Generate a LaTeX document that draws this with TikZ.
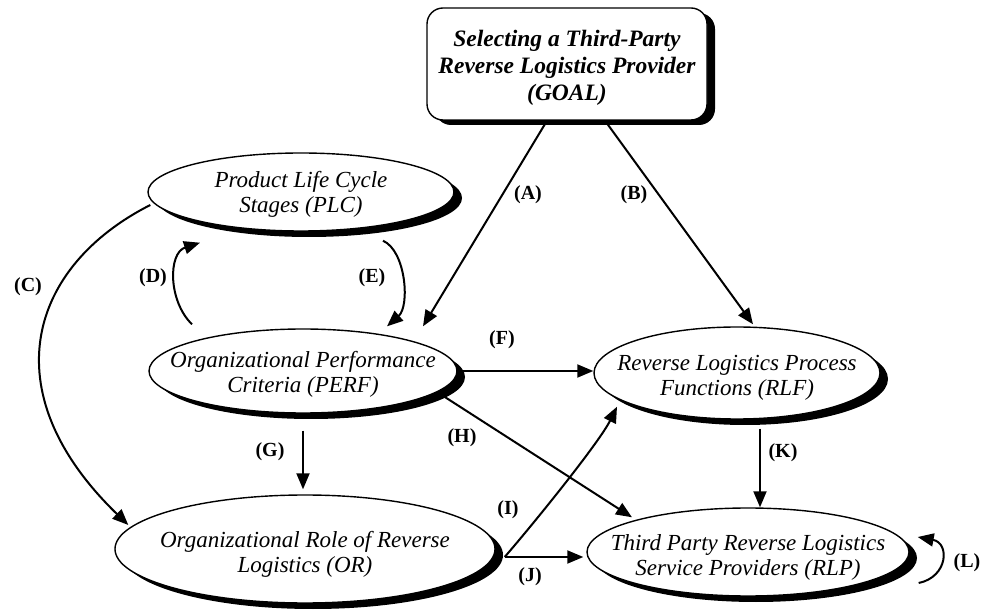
\documentclass[tikz,border=0pt]{standalone}
\usepackage{fontspec}
\setmainfont{Liberation Serif}
\usetikzlibrary{shapes.geometric,arrows.meta,shadows,calc}
\begin{document}
\begin{tikzpicture}[x=1pt,y=1pt,
  heavyshadow/.style={drop shadow={shadow xshift=8pt,shadow yshift=-6pt,fill=black,opacity=1}},
  oval/.style={ellipse,draw,line width=1.4pt,fill=white,inner sep=0pt,heavyshadow},
  ovaltext/.style={align=center,inner sep=0pt,font=\fontsize{23}{25}\selectfont\itshape},
  goalbox/.style={rectangle,rounded corners=16pt,draw,line width=1.4pt,fill=white,
    minimum width=280pt,minimum height=112pt,inner sep=0pt,
    drop shadow={shadow xshift=8pt,shadow yshift=-5pt,fill=black,opacity=1}},
  goaltext/.style={align=center,inner sep=0pt,font=\fontsize{23.5}{27}\selectfont\bfseries\itshape},
  lbl/.style={inner sep=0pt,font=\fontsize{20}{22}\selectfont\bfseries},
  link/.style={line width=2pt,-{Triangle[length=16pt,width=13pt]}},
]
\useasboundingbox (0,0) rectangle (986,611);

% goal box
\node[goalbox] (goal) at (567,547) {};
\node[goaltext] (goalt) at (567,543) {Selecting a Third-Party\\Reverse Logistics Provider\\(GOAL)};

% constructs
\node[oval,minimum width=306pt,minimum height=78pt] (plc) at (301,419) {};
\node[ovaltext] (plct) at (301,417) {Product Life Cycle\\Stages (PLC)};

\node[oval,minimum width=308pt,minimum height=84pt] (perf) at (303,240) {};
\node[ovaltext] (perft) at (303,237) {Organizational Performance\\Criteria (PERF)};

\node[oval,minimum width=286pt,minimum height=92pt] (rlf) at (737,238) {};
\node[ovaltext] (rlft) at (737,233) {Reverse Logistics Process\\Functions (RLF)};

\node[oval,minimum width=380pt,minimum height=108pt] (or) at (305,62) {};
\node[ovaltext] (ort) at (305,57) {Organizational Role of Reverse\\Logistics (OR)};

\node[oval,minimum width=322pt,minimum height=88pt] (rlp) at (748,59) {};
\node[ovaltext] (rlpt) at (748,54) {Third Party Reverse Logistics\\Service Providers (RLP)};

% relationships
\draw[link] ($(goal.south)+(-20,0)$) -- ($(perf.north)+(120,2)$);
\draw[link] ($(goal.south)+(38,0)$) -- ($(rlf.north)+(16,2)$);
\draw[link] ($(plc.west)+(3,-13)$) .. controls (30,345) and (-10,220) .. ($(or.west)+(14,24)$);
\draw[link] ($(perf.north)+(-111,4)$) .. controls (168,310) and (168,358) .. ($(plc.south)+(-101,-11)$);
\draw[link] ($(plc.south)+(82,-9)$) .. controls (406,360) and (410,305) .. ($(perf.north)+(84,2)$);
\draw[link] (perf.east) -- (perf.east -| rlf.west);
\draw[link] ($(perf.south)+(0,-17)$) -- ($(perf.south |- or.north)+(0,5)$);
\draw[link] ($(perf.east)+(-16,-24)$) -- ($(rlp.north)+(-116,-10)$);
\draw[link] ($(or.east)+(9,-8)$) .. controls (540,95) and (600,170) .. ($(rlf.south)+(-120,13)$);
\draw[link] ($(or.east)+(9,-8)$) -- ($(rlp.west)+(-3,-5)$);
\draw[link] ($(rlf.south)+(23,-9)$) -- ($(rlp.north)+(12,0)$);
\draw[link] ($(rlp.east)+(9,-31)$) .. controls (948,34) and (950,68) .. ($(rlp.east)+(8,15)$);

% relationship labels
\node[lbl] (la) at (528,416) {(A)};
\node[lbl] (lb) at (634,416) {(B)};
\node[lbl] (lc) at (28,324) {(C)};
\node[lbl] (ld) at (153,333) {(D)};
\node[lbl] (le) at (372,333) {(E)};
\node[lbl] (lf) at (502,271) {(F)};
\node[lbl] (lg) at (270,159) {(G)};
\node[lbl] (lh) at (462,173) {(H)};
\node[lbl] (li) at (508,101) {(I)};
\node[lbl] (lj) at (530,34) {(J)};
\node[lbl] (lk) at (783,158) {(K)};
\node[lbl] (ll) at (967,48) {(L)};
\end{tikzpicture}
\end{document}
